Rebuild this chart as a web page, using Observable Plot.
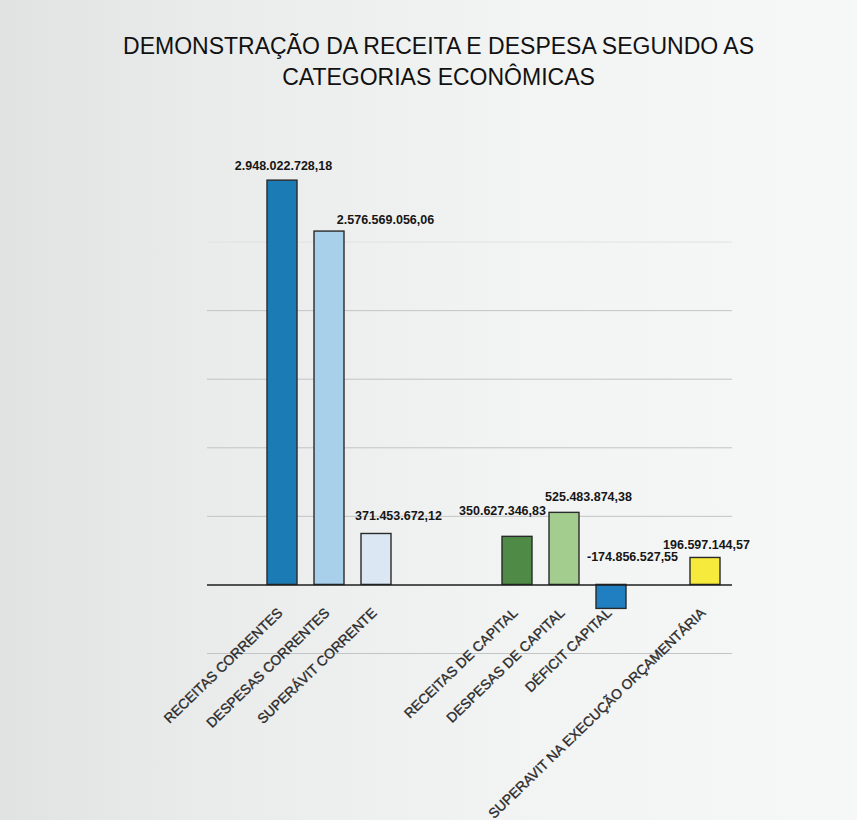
<!DOCTYPE html>
<html><head><meta charset="utf-8">
<script src="https://cdn.jsdelivr.net/npm/d3@7"></script>
<script src="https://cdn.jsdelivr.net/npm/@observablehq/plot@0.6"></script>
<style>
html,body{margin:0;padding:0}
body{width:857px;height:820px;overflow:hidden;background:linear-gradient(to right,#e1e2e2 0%,#eaebeb 25%,#f2f3f3 60%,#f6f7f7 100%);font-family:"Liberation Sans",Arial,sans-serif}
#title{height:100px;box-sizing:border-box;padding-top:31px;text-align:center;font-size:23px;line-height:31px;color:#111;position:relative;left:10px}
#chart svg{display:block}
</style></head><body>
<div id="title">DEMONSTRAÇÃO DA RECEITA E DESPESA SEGUNDO AS<br>CATEGORIAS ECONÔMICAS</div>
<div id="chart"></div>
<script>
const categories = ["RECEITAS CORRENTES","DESPESAS CORRENTES","SUPERÁVIT CORRENTE","RECEITAS DE CAPITAL","DESPESAS DE CAPITAL","DÉFICIT CAPITAL","SUPERAVIT NA EXECUÇÃO ORÇAMENTÁRIA"];
const values = [2948022728.18, 2576569056.06, 371453672.12, 350627346.83, 525483874.38, -174856527.55, 196597144.57];
const barColors = ["#1b7bb4","#a8d0ea","#dbe8f4","#4f8b47","#a3cd8e","#1f7fc0","#f6ea3c"];
// category slots of the original chart, including its empty positions
const slots = ["_e0", categories[0], categories[1], categories[2], "_e1", "_e2", categories[3], categories[4], categories[5], "_e3", categories[6]];
const gridValues = [-500e6, 500e6, 1000e6, 1500e6, 2000e6];
const faintGridValues = [2500e6];

// label placement tweaks (dx, dy in px) as in the original
const labelNudge = [[1,-15],[56,-12],[22,-18],[-15,-26],[24,-16],[21,-28],[1,-13]];

function fmt(v){
  const s = Math.abs(v).toFixed(2);
  const [i,d] = s.split(".");
  return (v<0?"-":"") + i.replace(/\B(?=(\d{3})+(?!\d))/g,".") + "," + d;
}

const table = categories.map((c,i)=>({cat:c, value:values[i]}));

const chart = Plot.plot({
  width: 857, height: 720,
  marginLeft: 207, marginRight: 125, marginTop: 73, marginBottom: 167,
  style: {background:"transparent", overflow:"visible"},
  x: {domain: slots, paddingInner: 0.37, paddingOuter: 0.185, axis: null},
  y: {domain: [-500e6, 3000e6], axis: null},
  color: {domain: categories, range: barColors},
  marks: [
    Plot.ruleY(gridValues, {stroke:"#c2c4c5", strokeWidth:1}),
    Plot.ruleY(faintGridValues, {stroke:"#e0e2e2", strokeWidth:1}),
    Plot.barY(table, {x:"cat", y:"value", fill:"cat", stroke:"#2a2a2a", strokeWidth:1.4}),
    Plot.ruleY([0], {stroke:"#1e1e1e", strokeWidth:1.6}),
    ...table.map((d,i)=>Plot.text([d], {
      x:"cat", y: r => r.value > 0 ? r.value : 0, text: r => fmt(r.value),
      dx: labelNudge[i][0], dy: labelNudge[i][1],
      fontWeight:"bold", fontSize:12.5, fill:"#161616",
      fontFamily:"'Liberation Sans', Arial, sans-serif"
    })),
    Plot.text(table, {
      x:"cat", y: () => 0, text:"cat", rotate:-44, textAnchor:"end", lineAnchor:"bottom",
      dx: 1, dy: 29, fontSize:13.8, fill:"#2b2b2b", stroke:"#2b2b2b", strokeWidth:0.35,
      fontFamily:"'Liberation Sans', Arial, sans-serif"
    })
  ]
});
document.getElementById("chart").appendChild(chart);
</script>
</body></html>
